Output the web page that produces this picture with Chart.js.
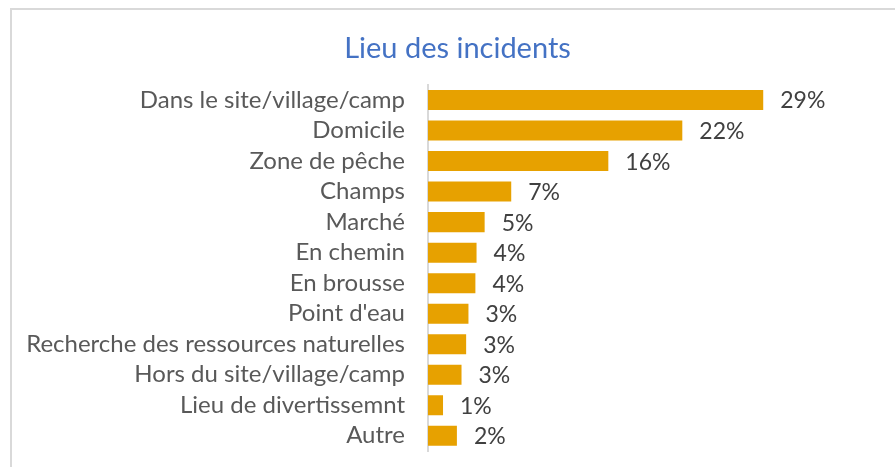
<!DOCTYPE html>
<html>
<head>
<meta charset="utf-8">
<script src="https://cdn.jsdelivr.net/npm/chart.js@4"></script>
<style>
  html, body { margin: 0; padding: 0; background: #fff; }
  #wrap { position: relative; width: 895px; height: 467px; }
  #frame { position: absolute; left: 10px; top: 8px; right: 0; bottom: 0;
           border-top: 2px solid #d9d9d9; border-left: 2px solid #d9d9d9; }
  canvas { position: absolute; left: 0; top: 0; }
</style>
</head>
<body>
<div id="wrap">
  <div id="frame"></div>
  <canvas id="chart-lieu" width="895" height="467"></canvas>
</div>
<script>
const categories = [
    'Dans le site/village/camp',
    'Domicile',
    'Zone de pêche',
    'Champs',
    'Marché',
    'En chemin',
    'En brousse',
    "Point d'eau",
    'Recherche des ressources naturelles',
    'Hors du site/village/camp',
    'Lieu de divertissemnt',
    'Autre'
]
const values = [29.0, 22.0, 15.6, 7.2, 4.9, 4.2, 4.1, 3.5, 3.3, 2.9, 1.3, 2.5]
const valueLabels = ['29%', '22%', '16%', '7%', '5%', '4%', '4%', '3%', '3%', '3%', '1%', '2%']

// etiquettes au bout des barres
const barLabels = {
    id : 'barLabels',
    afterDatasetsDraw : function(chart){
        const ctx = chart.ctx
        const meta = chart.getDatasetMeta(0)
        ctx.save()
        ctx.font = '23px Lato'
        ctx.fillStyle = '#404040'
        ctx.textAlign = 'left'
        ctx.textBaseline = 'middle'
        meta.data.forEach(function(bar, i){
            ctx.fillText(valueLabels[i], bar.x + 17, bar.y + 1)
        })
        ctx.restore()
    }
}

new Chart(document.getElementById('chart-lieu'),
    {
        type : 'bar',
        data : {
            labels : categories,
            datasets : [{
                label : 'Lieu des incidents',
                data : values,
                backgroundColor : '#E7A100',
                borderWidth : 0,
                barPercentage : 0.82,
                categoryPercentage : 0.8
            }]
        },
        options : {
            indexAxis : 'y',
            responsive : false,
            animation : false,
            layout : {
                padding : { left : 20, right : 0, top : 0, bottom : 16 }
            },
            scales : {
                x : {
                    display : false,
                    min : 0,
                    max : 40.4
                },
                y : {
                    afterFit : function(scale){
                        scale.width = 408
                        scale.paddingTop = 0
                        scale.paddingBottom = 0
                    },
                    grid : { display : false },
                    border : { display : true, color : '#d9d9d9', width : 2 },
                    ticks : {
                        autoSkip : false,
                        color : '#595959',
                        padding : 15,
                        font : { family : 'Lato', size : 24 }
                    }
                }
            },
            plugins : {
                legend : { display : false },
                tooltip : { enabled : false },
                title : {
                    display : true,
                    text : 'Lieu des incidents',
                    color : '#4472C4',
                    font : { family : 'Lato', size : 29, weight : 'normal' },
                    padding : { top : 31, bottom : 19 }
                }
            }
        },
        plugins : [barLabels]
    }
)
</script>
</body>
</html>
